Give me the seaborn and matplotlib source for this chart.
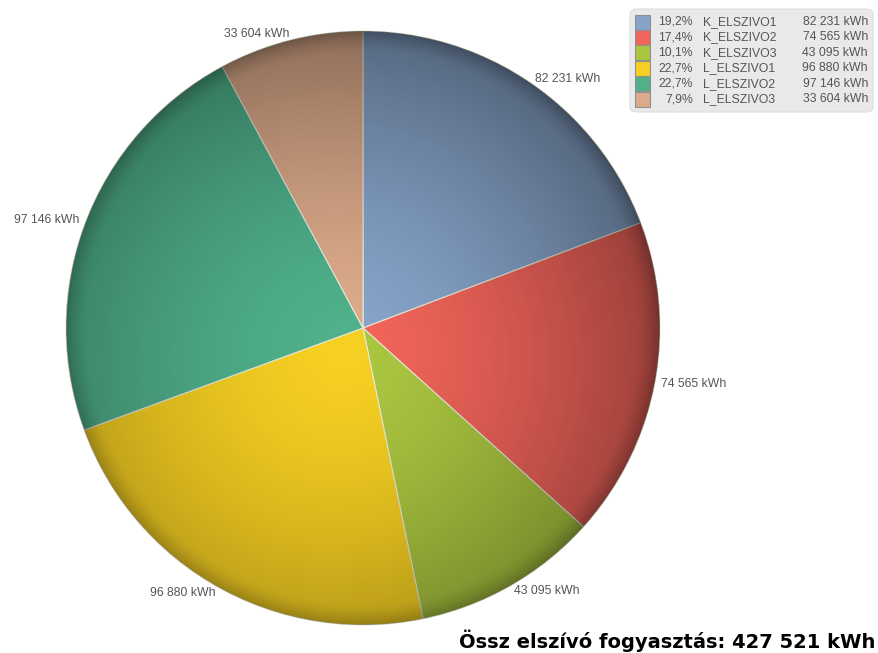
import numpy as np
import matplotlib
matplotlib.use('Agg')
import matplotlib.pyplot as plt
import seaborn as sns
from matplotlib.patches import Circle, FancyBboxPatch

# data
names = ['K_ELSZIVO1', 'K_ELSZIVO2', 'K_ELSZIVO3', 'L_ELSZIVO1', 'L_ELSZIVO2', 'L_ELSZIVO3']
values = [82231, 74565, 43095, 96880, 97146, 33604]
colors = ['#86a3c8', '#f0645a', '#aac640', '#f5cf22', '#4fb08a', '#dcaa8a']
title = 'Össz elszívó fogyasztás'

sns.set_theme(style="white")
plt.rcParams['font.family'] = ['Liberation Sans', 'DejaVu Sans']

W, H = 879, 653
fig = plt.figure(figsize=(W / 100, H / 100), dpi=100)

def fmt(v):
    return f'{v:,}'.replace(',', ' ') + ' kWh'

total = sum(values)

# pie axes positioned in pixel terms
cx, cy, r = 363, 328, 297
ax = fig.add_axes([(cx - r) / W, (H - cy - r) / H, 2 * r / W, 2 * r / H])
wedges, texts = ax.pie(values, colors=colors, startangle=90, counterclock=False,
                       labels=[fmt(v) for v in values], labeldistance=1.02,
                       wedgeprops=dict(edgecolor='#e8e8d8', linewidth=0.8),
                       textprops=dict(fontsize=8.8, color='#555555'))
ax.set_xlim(-1, 1)
ax.set_ylim(-1, 1)
ax.set_aspect('equal')
ax.axis('off')

# shading overlay to give the slices a rounded look
n = 400
xx, yy = np.meshgrid(np.linspace(-1, 1, n), np.linspace(1, -1, n))
rr = np.sqrt(xx ** 2 + yy ** 2)
alpha = 0.30 * rr ** 1.6 + 0.06 * (xx + yy)
alpha = alpha + np.clip((rr - 0.93) / 0.07, 0, 1) ** 1.5 * 0.15
alpha = np.clip(alpha, 0, 0.55)
shade = np.zeros((n, n, 4))
shade[..., 3] = alpha
im = ax.imshow(shade, extent=(-1, 1, -1, 1), zorder=3)
im.set_clip_path(Circle((0, 0), 1, transform=ax.transData))

# legend box
lx0, ly0, lw, lh = 630, 9, 243, 103
box = FancyBboxPatch(((lx0) / W, (H - ly0 - lh) / H), lw / W, lh / H,
                     boxstyle='round,pad=0,rounding_size=0.008',
                     transform=fig.transFigure, facecolor='#e9e9e9',
                     edgecolor='#dddddd', linewidth=0.8)
fig.patches.append(box)
row_y0, row_h = 22, 15.4
for i, (nm, v, c) in enumerate(zip(names, values, colors)):
    y = row_y0 + i * row_h
    sq = FancyBboxPatch(((lx0 + 5) / W, (H - y - 7.5) / H), 15 / W, 15 / H,
                        boxstyle='square,pad=0', transform=fig.transFigure,
                        facecolor=c, edgecolor='#909090', linewidth=0.8)
    fig.patches.append(sq)
    pct = f'{v / total * 100:.1f}%'.replace('.', ',')
    fig.text((lx0 + 63) / W, 1 - y / H, pct, ha='right', va='center', fontsize=8.8, color='#555555')
    fig.text((lx0 + 73) / W, 1 - y / H, nm, ha='left', va='center', fontsize=8.8, color='#555555')
    fig.text((lx0 + 238) / W, 1 - y / H, fmt(v), ha='right', va='center', fontsize=8.8, color='#555555')

fig.text(875 / W, 1 - 648 / H, f'{title}: {fmt(total)}', ha='right', va='baseline',
         fontsize=14, fontweight='bold', family='DejaVu Sans', color='#000000')

fig.savefig('out.png', dpi=100)
